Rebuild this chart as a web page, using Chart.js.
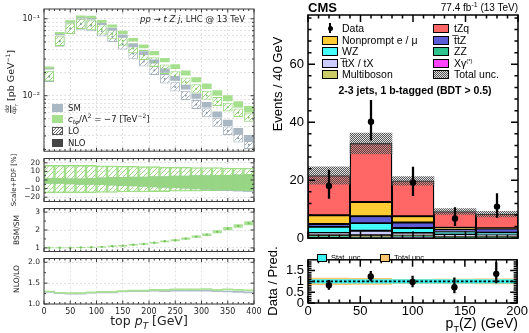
<!DOCTYPE html>
<html><head><meta charset="utf-8">
<script src="https://cdn.jsdelivr.net/npm/chart.js@4"></script>
<style>
html,body{margin:0;padding:0;background:#fff;}
#wrap{position:relative;width:529px;height:333px;overflow:hidden;background:#fff;}
canvas{position:absolute;}
.t{position:absolute;white-space:nowrap;line-height:1;}
.L{font-family:"DejaVu Sans",sans-serif;color:#222;}
.R{font-family:"Liberation Sans",Arial,sans-serif;color:#000;}
.rot{transform:translate(-50%,-50%) rotate(-90deg);}
.c{transform:translate(-50%,-50%);}
.rt{transform:translate(-100%,-50%);}
.lf{transform:translate(0,-50%);}
.sw{position:absolute;box-sizing:border-box;}
.frac{display:inline-flex;flex-direction:column;align-items:center;font-size:6px;vertical-align:middle;line-height:1.05;}
.frac span:first-child{border-bottom:0.6px solid #222;}
</style></head>
<body><div id="wrap"></div>
<script>
// ---------------- LEFT FIGURE DATA (top pT, 20 GeV bins) ----------------
const ptCenters = [10,30,50,70,90,110,130,150,170,190,210,230,250,270,290,310,330,350,370,390];
const smNLO  = [0.0228,0.064,0.093,0.106,0.103,0.088,0.0745,0.0605,0.046,0.0366,0.0284,0.0217,0.0172,0.0133,0.0102,0.0079,0.0059,0.0046,0.0036,0.0029];
const bsmNLO = [0.0235,0.066,0.094,0.109,0.107,0.094,0.082,0.068,0.0545,0.0447,0.0366,0.0297,0.0245,0.0203,0.0166,0.0137,0.0112,0.0096,0.0080,0.0069];
const smLO   = [0.0177,0.0508,0.0744,0.0848,0.0811,0.0688,0.0582,0.0465,0.0351,0.0279,0.0215,0.0166,0.0130,0.0101,0.0077,0.0060,0.0045,0.0035,0.0028,0.0023];
const bsmLO  = [0.0181,0.0520,0.0746,0.0865,0.0836,0.0729,0.0636,0.0519,0.0413,0.0339,0.0273,0.0222,0.0181,0.0150,0.0123,0.0101,0.0084,0.0071,0.0060,0.0052];
// Scale+PDF uncertainties [%]
const loUncUp   = [17,17,17,17,17,16.5,16.5,16,16,15.5,15.5,15,15,15,14.5,14.5,14.5,14,14,14];
const loUncDn   = [-15,-15,-15,-15,-15,-14.5,-14.5,-14,-14,-14,-13.5,-13.5,-13,-13,-13,-12.5,-12.5,-12,-12,-12];
const nloUncUp  = [2,2,1.5,1.5,2,2.5,3,3,3.5,3.5,4,4,4.5,4.5,5,5,5.5,5.5,6,6.5];
const nloUncDnBSM = [-4,-4,-4.5,-5,-5,-5.5,-6,-6.5,-7,-7.5,-8,-8.5,-9,-9.5,-10,-10.5,-11,-11.5,-12,-12.5];
const nloUncDnSM  = [-4,-4,-4.5,-5,-5,-5.5,-6,-6.5,-7,-7.5,-8,-8.5,-9,-9.5,-10.5,-11,-11.5,-12.5,-13,-13.5];
// BSM/SM ratio
const bsmOverSm    = [1.01,1.01,1.01,1.02,1.04,1.06,1.10,1.12,1.18,1.22,1.29,1.37,1.43,1.52,1.63,1.74,1.90,2.08,2.22,2.38];
const bsmOverSmErr = [0.01,0.01,0.01,0.01,0.01,0.015,0.015,0.02,0.02,0.02,0.025,0.03,0.035,0.04,0.045,0.05,0.06,0.07,0.08,0.09];
// NLO/LO ratio
const nloLoSM  = [1.29,1.26,1.25,1.25,1.27,1.28,1.28,1.30,1.31,1.31,1.32,1.31,1.32,1.32,1.32,1.32,1.31,1.30,1.29,1.28];
const nloLoBSM = [1.30,1.27,1.26,1.26,1.28,1.29,1.29,1.31,1.32,1.32,1.34,1.34,1.35,1.35,1.35,1.36,1.34,1.35,1.34,1.33];
// tick values
const ptTicks = [0,50,100,150,200,250,300,350,400];
const ptMinor = [10,20,30,40,60,70,80,90,110,120,130,140,160,170,180,190,210,220,230,240,260,270,280,290,310,320,330,340,360,370,380,390];
const logMajor = [0.01,0.1];
const logMinor = [0.002,0.003,0.004,0.005,0.006,0.007,0.008,0.009,0.02,0.03,0.04,0.05,0.06,0.07,0.08,0.09];
const scaleTicks = [-20,-10,0,10,20];
const bsmTicks = [1,2,3];
const nloTicks = [1.0,1.5,2.0];

// ---------------- RIGHT FIGURE DATA (pT(Z), 40 GeV bins) ----------------
const zCenters   = [20,60,100,140,180];
const bkgXgamma  = [0.1,0.1,0.5,0.1,0.1];
const bkgZZ      = [0.9,0.3,0.3,0.4,0.4];
const bkgMulti   = [0.2,0.6,0.2,0.1,0.1];
const bkgTTX     = [0.6,1.6,0.8,0.7,0.5];
const bkgWZ      = [2.1,2.6,1.7,1.0,0.8];
const bkgTTZ     = [1.0,2.4,1.9,0.8,1.4];
const bkgNonprompt = [3.0,4.9,2.2,0.5,0.1];
const sigTZq     = [13.7,20.2,12.2,5.6,4.9];
const totalUnc   = [3.0,3.6,1.5,1.0,1.0];
const dataObs    = [18.0,40.2,19.2,6.8,10.9];
const dataLo     = [13.7,33.8,14.7,4.3,7.2];
const dataHi     = [23.5,47.6,24.5,10.6,15.4];
const ratioVal   = [0.82,1.23,0.97,0.73,1.35];
const ratioLo    = [0.63,1.02,0.75,0.47,0.93];
const ratioHi    = [1.05,1.47,1.25,1.17,1.88];
const statUncRel = [0.08,0.08,0.08,0.08,0.08];
const totUncRel  = [0.15,0.14,0.10,0.11,0.12];
const zTicks = [0,50,100,150,200];
const zMinor = [10,20,30,40,60,70,80,90,110,120,130,140,160,170,180,190];
const evTicks = [0,20,40,60];
const evMinor = [4,8,12,16,24,28,32,36,44,48,52,56,64,68,72,76];
const ratTicks = [0,0.5,1,1.5];
const ratMinor = [0.1,0.2,0.3,0.4,0.6,0.7,0.8,0.9,1.1,1.2,1.3,1.4,1.6,1.7,1.8,1.9];

// ---------------- helpers ----------------
const W = document.getElementById('wrap');
function hatch(line, bg, size, lw) {
  const c = document.createElement('canvas'); c.width = size; c.height = size;
  const g = c.getContext('2d');
  if (bg) { g.fillStyle = bg; g.fillRect(0,0,size,size); }
  g.strokeStyle = line; g.lineWidth = lw; g.beginPath();
  g.moveTo(-1,size+1); g.lineTo(size+1,-1);
  g.moveTo(-2,2); g.lineTo(2,-2);
  g.moveTo(size-2,size+2); g.lineTo(size+2,size-2);
  g.stroke();
  return g.createPattern(c,'repeat');
}
function stipple() {
  const c = document.createElement('canvas'); c.width = 2; c.height = 2;
  const g = c.getContext('2d');
  g.fillStyle = 'rgba(70,70,70,0.9)'; g.fillRect(0,0,1,1); g.fillRect(1,1,1,1);
  g.fillStyle = 'rgba(170,170,170,0.35)'; g.fillRect(1,0,1,1); g.fillRect(0,1,1,1);
  return g.createPattern(c,'repeat');
}
const frameTicks = {
  id: 'frameTicks',
  afterDraw(chart, args, o) {
    if (!o || !o.on) return;
    const {ctx, chartArea: a} = chart;
    const xs = chart.scales.x, ys = chart.scales.y;
    ctx.save();
    ctx.strokeStyle = o.color; ctx.lineWidth = o.width;
    ctx.beginPath();
    const seg = (x1,y1,x2,y2) => { ctx.moveTo(x1,y1); ctx.lineTo(x2,y2); };
    const dx = (vals,len) => vals.forEach(v => { const p = xs.getPixelForValue(v); if (p < a.left-0.5 || p > a.right+0.5) return; seg(p,a.bottom,p,a.bottom-len); seg(p,a.top,p,a.top+len); });
    const dy = (vals,len) => vals.forEach(v => { const p = ys.getPixelForValue(v); if (p < a.top-0.5 || p > a.bottom+0.5) return; seg(a.left,p,a.left+len,p); seg(a.right,p,a.right-len,p); });
    dx(o.xMaj||[],o.majLen); dx(o.xMin||[],o.minLen); dy(o.yMaj||[],o.majLen); dy(o.yMin||[],o.minLen);
    ctx.stroke();
    ctx.strokeRect(a.left,a.top,a.right-a.left,a.bottom-a.top);
    ctx.restore();
  }
};
Chart.register(frameTicks);

function mk(box, area, xh, datasets, sc, ft) {
  const [cx,cy,cw,ch] = box;
  const c = document.createElement('canvas');
  c.width = cw; c.height = ch;
  c.style.left = cx+'px'; c.style.top = cy+'px'; c.style.width = cw+'px'; c.style.height = ch+'px';
  W.appendChild(c);
  const pad = {left:0, top:area[1]-cy, right:cx+cw-area[2], bottom:cy+ch-area[3]-xh};
  sc.x.afterFit = s => { s.height = xh; };
  sc.y.afterFit = s => { s.width = area[0]-cx; };
  return new Chart(c, {
    type: 'bar',
    data: { datasets },
    options: {
      responsive:false, animation:false, devicePixelRatio:1,
      layout:{padding:pad},
      plugins:{legend:{display:false}, tooltip:{enabled:false}, frameTicks: ft},
      scales: sc
    }
  });
}
const fl = (xs, lo, hi) => xs.map((x,i) => ({x, y:[lo[i], hi[i]]}));
const minus = v => (v < 0 ? '\u2212' + Math.abs(v) : String(v));
const gridL = {color:'#d6d6d6', lineWidth:0.7, drawTicks:false};
const borderL = {display:false, dash:[2,2]};
const fontL = {family:'DejaVu Sans', size:8};
const leftFT = (yMaj, yMin) => ({on:true, color:'#3a3a3a', width:1, majLen:3.5, minLen:2, xMaj:ptTicks, xMin:ptMinor, yMaj, yMin});
function xLeft(showLabels) {
  return {type:'linear', min:0, max:400, offset:false, grid:{...gridL, offset:false}, border:borderL,
    afterBuildTicks: s => { s.ticks = ptTicks.map(v => ({value:v})); },
    ticks:{display:showLabels, autoSkip:false, maxRotation:0, padding:3, color:'#222', font:fontL}};
}
const barL = {grouped:false, categoryPercentage:1, barPercentage:1, borderSkipped:false};

// ---------------- LEFT: main distribution ----------------
const greyFill = '#a9b8c2', greenFill = '#a6e08e';
const hatchGrey = hatch('#9aa8b2','rgba(255,255,255,0.75)',5,0.9);
const hatchGreen = hatch('#8fd573','rgba(255,255,255,0.55)',5,0.9);
mk([0,0,265,160],[44,9,254,155],0,[
  {...barL, order:4, barPercentage:0.93, data: ptCenters.map((x,i)=>({x, y:[smLO[i]*(1+loUncDn[i]/100), smLO[i]*(1+loUncUp[i]/100)]})), backgroundColor:hatchGrey, borderColor:'#a7b5bf', borderWidth:1},
  {...barL, order:3, barPercentage:0.93, data: ptCenters.map((x,i)=>({x, y:[bsmLO[i]*(1+loUncDn[i]/100), bsmLO[i]*(1+loUncUp[i]/100)]})), backgroundColor:hatchGreen, borderColor:'#98da7c', borderWidth:1},
  {...barL, order:2, barPercentage:0.93, data: ptCenters.map((x,i)=>({x, y:[smNLO[i]*(1+nloUncDnSM[i]/100), smNLO[i]*(1+nloUncUp[i]/100)]})), backgroundColor:greyFill, borderWidth:0},
  {...barL, order:1, barPercentage:0.93, data: ptCenters.map((x,i)=>({x, y:[bsmNLO[i]*(1+nloUncDnBSM[i]/100), bsmNLO[i]*(1+nloUncUp[i]/100)]})), backgroundColor:greenFill, borderWidth:0},
  {type:'scatter', order:0, data: ptCenters.map((x,i)=>({x, y:smLO[i]})), pointRadius:1, backgroundColor:'#8898a3', borderWidth:0},
  {type:'scatter', order:0, data: ptCenters.map((x,i)=>({x, y:bsmLO[i]})), pointRadius:1, backgroundColor:'#7cc764', borderWidth:0}
],{
  x: xLeft(false),
  y: {type:'logarithmic', min:0.0019, max:0.134, grid:gridL, border:borderL,
      afterBuildTicks: s => { s.ticks = logMajor.concat(logMinor).map(v=>({value:v})); },
      ticks:{autoSkip:false, padding:4, color:'#222', font:fontL,
        callback: v => (v === 0.1 ? '10\u207B\u00B9' : (v === 0.01 ? '10\u207B\u00B2' : ''))}}
}, leftFT(logMajor, logMinor));

// ---------------- LEFT: Scale+PDF ----------------
const hatchGreen2 = hatch('#94d878','rgba(255,255,255,0.3)',5,0.9);
mk([0,150,265,60],[44,155,254,205],0,[
  {...barL, order:3, data: fl(ptCenters, loUncDn, loUncUp), backgroundColor:hatchGreen2, borderColor:'#9bdc80', borderWidth:1},
  {...barL, order:2, data: fl(ptCenters, nloUncDnSM, nloUncUp), backgroundColor:'rgba(160,180,190,0.8)', borderWidth:0},
  {...barL, order:1, data: fl(ptCenters, nloUncDnBSM, nloUncUp), backgroundColor:'rgba(150,216,128,0.9)', borderWidth:0}
],{
  x: xLeft(false),
  y: {type:'linear', min:-25, max:25, grid:gridL, border:borderL,
      afterBuildTicks: s => { s.ticks = scaleTicks.map(v=>({value:v})); },
      ticks:{autoSkip:false, padding:4, color:'#222', font:{family:'DejaVu Sans', size:7.5}, callback: v => minus(v)}}
}, leftFT(scaleTicks, [-15,-5,5,15]));

// ---------------- LEFT: BSM/SM ----------------
mk([0,200,265,60],[44,205,254,254],0,[
  {...barL, order:1, barPercentage:0.88, data: ptCenters.map((x,i)=>({x, y:[bsmOverSm[i]-bsmOverSmErr[i]-0.02, bsmOverSm[i]+bsmOverSmErr[i]+0.02]})), backgroundColor:'#a9e294', borderWidth:0},
  {type:'scatter', order:0, data: ptCenters.map((x,i)=>({x, y:bsmOverSm[i]})), pointRadius:1.2, backgroundColor:'#79c45f', borderWidth:0}
],{
  x: xLeft(false),
  y: {type:'linear', min:0.8, max:3.2, grid:gridL, border:borderL,
      afterBuildTicks: s => { s.ticks = bsmTicks.map(v=>({value:v})); },
      ticks:{autoSkip:false, padding:4, color:'#222', font:{family:'DejaVu Sans', size:7.5}}}
}, leftFT(bsmTicks, [1.5,2.5]));

// ---------------- LEFT: NLO/LO ----------------
mk([0,250,265,83],[44,254,254,304],14,[
  {...barL, order:2, data: ptCenters.map((x,i)=>({x, y:[nloLoSM[i]-0.012, nloLoSM[i]+0.012]})), backgroundColor:'#aebcc6', borderWidth:0},
  {...barL, order:1, data: ptCenters.map((x,i)=>({x, y:[nloLoBSM[i]-0.012, nloLoBSM[i]+0.012]})), backgroundColor:'#a8e293', borderWidth:0}
],{
  x: xLeft(true),
  y: {type:'linear', min:1.0, max:2.09, grid:gridL, border:borderL,
      afterBuildTicks: s => { s.ticks = nloTicks.map(v=>({value:v})); },
      ticks:{autoSkip:false, padding:4, color:'#222', font:{family:'DejaVu Sans', size:7.5}, callback: v => v.toFixed(1)}}
}, leftFT(nloTicks, [1.25,1.75]));

// ---------------- RIGHT: stacked histogram ----------------
const comps = [
  {v:bkgXgamma, c:'#ff44ff'}, {v:bkgZZ, c:'#2fc48e'}, {v:bkgMulti, c:'#cccc66'}, {v:bkgTTX, c:'#ccccff'},
  {v:bkgWZ, c:'#44ffff'}, {v:bkgTTZ, c:'#5c5cd6'}, {v:bkgNonprompt, c:'#ffcc33'}, {v:sigTZq, c:'#ff6666'}
];
const cum = zCenters.map(() => 0);
const stackSets = comps.map((cp, k) => {
  const d = zCenters.map((x,i) => { const lo = cum[i]; cum[i] += cp.v[i]; return {x, y:[lo, cum[i]]}; });
  return {grouped:false, categoryPercentage:1, barPercentage:1, borderSkipped:false, order:20-k, data:d, backgroundColor:cp.c, borderColor:'#000', borderWidth:1.3};
});
const totals = cum.slice();
const fontR = {family:'Liberation Sans', size:13};
const rightFT = (yMaj, yMin) => ({on:true, color:'#000', width:1.5, majLen:7, minLen:3.5, xMaj:zTicks, xMin:zMinor, yMaj, yMin});
function xRight(show) {
  return {type:'linear', min:0, max:200, offset:false, grid:{display:false, drawTicks:false, offset:false}, border:{display:false},
    afterBuildTicks: s => { s.ticks = zTicks.map(v=>({value:v})); },
    ticks:{display:show, autoSkip:false, maxRotation:0, padding:1, color:'#000', font:fontR}};
}
mk([265,0,264,250],[308,15,518,243],0,[
  ...stackSets,
  {grouped:false, categoryPercentage:1, barPercentage:1, borderSkipped:false, order:5, data: zCenters.map((x,i)=>({x, y:[totals[i]-totalUnc[i], totals[i]+totalUnc[i]]})), backgroundColor:stipple(), borderWidth:0},
  {grouped:false, barThickness:1.6, borderSkipped:false, order:2, data: fl(zCenters, dataLo, dataHi), backgroundColor:'#000', borderWidth:0},
  {type:'scatter', order:1, data: zCenters.map((x,i)=>({x, y:dataObs[i]})), pointRadius:3.2, backgroundColor:'#000', borderWidth:0}
],{
  x: xRight(false),
  y: {type:'linear', min:0, max:77, grid:{display:false, drawTicks:false}, border:{display:false},
      afterBuildTicks: s => { s.ticks = evTicks.map(v=>({value:v})); },
      ticks:{autoSkip:false, padding:4, color:'#000', font:fontR}}
}, rightFT(evTicks, evMinor));

// ---------------- RIGHT: ratio ----------------
mk([265,248,264,85],[308,253,518,303],14,[
  {grouped:false, categoryPercentage:1, barPercentage:1, borderSkipped:false, order:6, data: zCenters.map((x,i)=>({x, y:[1-totUncRel[i], 1+totUncRel[i]]})), backgroundColor:'#fdc66e', borderWidth:0},
  {grouped:false, categoryPercentage:1, barPercentage:1, borderSkipped:false, order:5, data: zCenters.map((x,i)=>({x, y:[1-statUncRel[i], 1+statUncRel[i]]})), backgroundColor:'#3ff0f2', borderWidth:0},
  {type:'line', order:3, data:[{x:0,y:1},{x:200,y:1}], borderColor:'#000', borderWidth:1.6, borderDash:[2.5,2], pointRadius:0},
  {grouped:false, barThickness:1.6, borderSkipped:false, order:2, data: fl(zCenters, ratioLo, ratioHi), backgroundColor:'#000', borderWidth:0},
  {type:'scatter', order:1, data: zCenters.map((x,i)=>({x, y:ratioVal[i]})), pointRadius:3.2, backgroundColor:'#000', borderWidth:0}
],{
  x: xRight(true),
  y: {type:'linear', min:0, max:2, grid:{display:false, drawTicks:false}, border:{display:false},
      afterBuildTicks: s => { s.ticks = ratTicks.map(v=>({value:v})); },
      ticks:{autoSkip:false, padding:4, color:'#000', font:fontR, callback: v => String(v)}}
}, rightFT(ratTicks, ratMinor));

// ---------------- TEXT ----------------
function txt(html, x, y, cls, style) {
  const d = document.createElement('div');
  d.className = 't ' + cls; d.innerHTML = html;
  d.style.left = x+'px'; d.style.top = y+'px';
  if (style) d.style.cssText += style;
  W.appendChild(d); return d;
}
function sw(x, y, w, h, style) {
  const d = document.createElement('div'); d.className = 'sw';
  d.style.left = x+'px'; d.style.top = y+'px'; d.style.width = w+'px'; d.style.height = h+'px';
  d.style.cssText += style; W.appendChild(d);
}
// left texts
txt('<span class="frac"><span>d<i>σ</i></span><span>d<i>p<sub style="font-size:4px">T</sub></i></span></span> [pb GeV<sup style="font-size:6px">\u22121</sup>]', 12, 82, 'L rot', 'font-size:9.5px;');
txt('Scale+PDF [%]', 14, 180, 'L rot', 'font-size:7px;');
txt('BSM/SM', 17, 230, 'L rot', 'font-size:7.5px;');
txt('NLO/LO', 17, 279, 'L rot', 'font-size:7.5px;');
txt('top <i>p<sub style="font-size:9px">T</sub></i> [GeV]', 149, 323, 'L c', 'font-size:12.5px;');
txt('<i>pp</i> \u2192 <i>t Z j</i>, LHC @ 13 TeV', 245, 19, 'L rt', 'font-size:8.5px;');
// left legend
sw(52,104,11,8,'background:'+greyFill+';');
txt('SM', 68, 108, 'L lf', 'font-size:8.5px;');
sw(52,115,11,8,'background:'+greenFill+';');
txt('<i>c</i><sub style="font-size:6px"><i>tφ</i></sub>/Λ<sup style="font-size:6px">2</sup> = \u22127 [TeV<sup style="font-size:6px">\u22122</sup>]', 68, 119, 'L lf', 'font-size:8.5px;');
sw(52,127,11,8,'border:1px solid #555;background:repeating-linear-gradient(135deg,#fff 0 1.5px,#666 1.5px 2.3px);');
txt('LO', 68, 131, 'L lf', 'font-size:8.5px;');
sw(52,139,11,8,'background:#454545;');
txt('NLO', 68, 143, 'L lf', 'font-size:8.5px;');

// right texts
txt('<b>CMS</b>', 308, 7, 'R lf', 'font-size:13px;');
txt('77.4 fb<sup style="font-size:7px">-1</sup> (13 TeV)', 518, 7, 'R rt', 'font-size:10px;');
txt('Events / 40 GeV', 277, 84, 'R rot', 'font-size:13px;');
txt('Data / Pred.', 272, 281, 'R rot', 'font-size:13px;');
txt('p<sub style="font-size:9px">T</sub>(Z) (GeV)', 518, 325, 'R rt', 'font-size:14px;');
txt('<b>2-3 jets, 1 b-tagged (BDT &gt; 0.5)</b>', 415, 90, 'R c', 'font-size:10.5px;');
// right legend
const legL = [['Nonprompt e / \u03BC','#ffcc33'],['WZ','#44ffff'],['t\u0305tX / tX','#ccccff'],['Multiboson','#cccc66']];
const legR = [['tZq','#ff6666'],['t\u0305tZ','#5c5cd6'],['ZZ','#2fc48e'],['X\u03B3<sup style="font-size:6px">(*)</sup>','#ff44ff']];
const rows = [28,39.5,51,62.5,74];
sw(329.3,23,1.4,10,'background:#000;');
sw(327.5,25.5,5,5,'background:#000;border-radius:50%;');
txt('Data', 342, rows[0], 'R lf', 'font-size:10.5px;');
legL.forEach((e,i) => { sw(322, rows[i+1]-4, 16, 9, 'background:'+e[1]+';border:1px solid #000;'); txt(e[0], 342, rows[i+1], 'R lf', 'font-size:10.5px;'); });
legR.forEach((e,i) => { sw(433, rows[i]-4, 16, 9, 'background:'+e[1]+';border:1px solid #000;'); txt(e[0], 454, rows[i], 'R lf', 'font-size:10.5px;'); });
sw(433, rows[4]-4, 16, 9, 'border:1px solid #000;background:repeating-conic-gradient(#555 0 25%, #ddd 0 50%) 0 0/2px 2px;');
txt('Total unc.', 454, rows[4], 'R lf', 'font-size:10.5px;');
// ratio legend
sw(317,254,10,8,'background:#3ff0f2;border:1px solid #000;');
txt('Stat. unc.', 331, 258, 'R lf', 'font-size:7.5px;');
sw(380,254,10,8,'background:#fdc66e;border:1px solid #000;');
txt('Total unc.', 394, 258, 'R lf', 'font-size:7.5px;');
</script>
</body></html>
